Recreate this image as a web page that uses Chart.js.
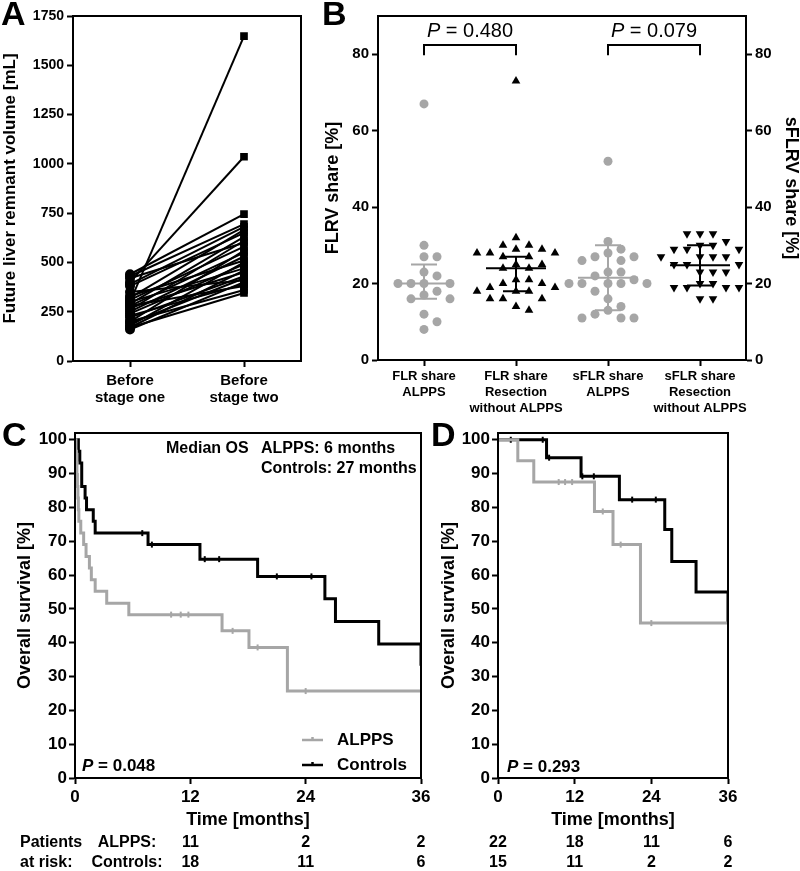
<!DOCTYPE html>
<html lang="en">
<head>
<meta charset="UTF-8">
<title>ALPPS volumes and survival</title>
<script src="https://cdnjs.cloudflare.com/ajax/libs/Chart.js/4.4.1/chart.umd.min.js"></script>
<style>
  body { margin: 0; background: #fff; width: 800px; height: 871px; position: relative; overflow: hidden; }
  canvas { position: absolute; }
  .letter { position: absolute; font: bold 34px "Liberation Sans", Arial, sans-serif; line-height: 1; color: #000; }
</style>
</head>
<body>
<canvas id="chartA" style="left:0;top:0" width="310" height="410"></canvas>
<canvas id="chartB" style="left:310px;top:0" width="490" height="420"></canvas>
<canvas id="chartC" style="left:0;top:400px" width="440" height="471"></canvas>
<canvas id="chartD" style="left:440px;top:400px" width="360" height="471"></canvas>
<div class="letter" style="left:1px;top:-4px">A</div>
<div class="letter" style="left:322px;top:-4px">B</div>
<div class="letter" style="left:2px;top:417px">C</div>
<div class="letter" style="left:431px;top:417px">D</div>

<script>
// ---------- Panel A: future liver remnant volume ----------
const stageLabels = [['Before', 'stage one'], ['Before', 'stage two']];
const volumeTicks = [0, 250, 500, 750, 1000, 1250, 1500, 1750];
const stageOne = [300, 400, 440, 430, 390, 320, 380, 290, 260, 420, 310, 200, 280, 250,
                  330, 180, 240, 300, 170, 270, 220, 190, 350, 160, 280, 200, 170, 230];
const stageTwo = [1648, 1036, 745, 694, 680, 665, 650, 630, 610, 600, 580, 560, 550, 530,
                  510, 500, 490, 470, 460, 450, 430, 420, 410, 400, 380, 360, 345, 390];

// ---------- Panel B: FLRV share ----------
const shareGroups = [['FLR share', 'ALPPS'], ['FLR share', 'Resection', 'without ALPPS'],
                     ['sFLR share', 'ALPPS'], ['sFLR share', 'Resection', 'without ALPPS']];
const shareTicks = [0, 20, 40, 60, 80];
const flrAlpps = [67, 30, 27, 27, 23, 22, 20, 20, 20, 20, 18, 17, 16, 16, 12, 10, 8];
const flrResection = [73, 32, 30, 30, 29, 29, 28, 28, 28, 27, 27, 25, 25, 24, 24, 21, 21,
                      20, 20, 19, 19, 18, 18, 18, 16, 16, 16, 14, 13];
const sflrAlpps = [52, 31, 29, 28, 27, 27, 26, 26, 23, 23, 22, 21, 20, 20, 20, 20, 20,
                   18, 16, 14, 13, 12, 11, 11, 11];
const sflrResection = [33, 33, 33, 31, 30, 30, 29, 29, 29, 27, 27, 27, 27, 25, 25, 25, 25,
                       23, 23, 23, 20, 20, 19, 19, 19, 19, 16, 16];
const shareMedian = [20, 24, 21.5, 24.8];
const shareUpper = [25, 27, 30, 30];
const shareLower = [16, 18, 13, 19.5];
const pValuesB = ['0.480', '0.079'];
const pPairsB = [[0, 1], [2, 3]];

// ---------- Panels C and D: overall survival ----------
const monthTicks = [0, 12, 24, 36];
const survivalTicks = [0, 10, 20, 30, 40, 50, 60, 70, 80, 90, 100];

const alppsTimeC = [0, 0.1, 0.15, 0.2, 0.25, 0.3, 0.35, 0.4, 0.6, 0.9, 1.15, 1.5, 1.7, 2.1, 3.3, 5.6, 15.3, 18.1, 22.1, 36];
const alppsSurvC = [100, 96.6, 93.1, 89.7, 86.2, 82.8, 79.3, 75.9, 72.4, 69, 65.5, 62.1, 58.6, 55.2, 51.7, 48.3, 43.5, 38.6, 25.7, 25.7];
const alppsCensTC = [10, 11, 11.8, 16.4, 19, 24];
const alppsCensSC = [48.3, 48.3, 48.3, 43.5, 38.6, 25.7];
const ctrlTimeC = [0, 0.35, 0.5, 0.7, 1.05, 1.2, 1.9, 2.1, 7.6, 13.0, 19.0, 26.0, 27.1, 31.6, 36, 36];
const ctrlSurvC = [100, 96.6, 93.1, 86.2, 82.8, 79.3, 75.9, 72.4, 69.0, 64.7, 59.6, 53.0, 46.3, 39.6, 39.6, 33.2];
const ctrlCensTC = [7, 8, 13.5, 15, 21, 24.6];
const ctrlCensSC = [72.4, 69.0, 64.7, 64.7, 59.6, 59.6];

const alppsTimeD = [0, 3.1, 5.6, 15.1, 18.0, 22.3, 36];
const alppsSurvD = [100, 93.8, 87.5, 78.8, 69.0, 45.8, 45.8];
const alppsCensTD = [9.5, 10.5, 11.6, 16.4, 19.2, 24];
const alppsCensSD = [87.5, 87.5, 87.5, 78.8, 69.0, 45.8];
const ctrlTimeD = [0, 7.6, 13.0, 19.0, 26.1, 27.2, 31.0, 36, 36];
const ctrlSurvD = [100, 94.7, 89.2, 82.3, 73.5, 64.0, 55.0, 55.0, 46.0];
const ctrlCensTD = [2, 7, 8, 13.2, 15, 21, 24.7];
const ctrlCensSD = [100, 100, 94.7, 89.2, 89.2, 82.3, 82.3];

const riskMonthsC = [12, 24, 36];
const riskAlppsC = [11, 2, 2];
const riskCtrlC = [18, 11, 6];
const riskMonthsD = [0, 12, 24, 36];
const riskRow1D = [22, 18, 11, 6];
const riskRow2D = [15, 11, 2, 2];

// ---------- shared bits ----------
const FONT = '"Liberation Sans", Arial, sans-serif';
const GREY = '#a6a6a6';
Chart.defaults.font.family = FONT;
Chart.defaults.color = '#000';

const fixW = w => s => { s.width = w; };
const fixH = h => s => { s.height = h; };
const setTicks = list => s => { s.ticks = list.map(v => ({ value: v })); };
const plainNum = v => String(v);

const framePlugin = {
  id: 'frame',
  afterDraw(chart) {
    const { ctx, chartArea: a } = chart;
    ctx.save();
    ctx.strokeStyle = '#000';
    ctx.lineWidth = 2;
    ctx.strokeRect(a.left, a.top, a.right - a.left, a.bottom - a.top);
    ctx.restore();
  }
};

function axisStyle(fontSize, extra) {
  return Object.assign({
    border: { color: '#000', width: 2 },
    grid: { drawOnChartArea: false, drawTicks: true, tickLength: 6, tickWidth: 2, tickColor: '#000' },
    ticks: { font: { size: fontSize, weight: 'bold' }, color: '#000', padding: 3, maxRotation: 0, callback: plainNum }
  }, extra);
}

// draw "P = value" with an italic P
function drawP(ctx, text, x, y, size, weight, align) {
  ctx.save();
  ctx.textBaseline = 'middle';
  ctx.fillStyle = '#000';
  ctx.font = `italic ${weight} ${size}px ${FONT}`;
  const wP = ctx.measureText('P').width;
  ctx.font = `${weight} ${size}px ${FONT}`;
  const rest = ' = ' + text;
  const wR = ctx.measureText(rest).width;
  let x0 = align === 'center' ? x - (wP + wR) / 2 : x;
  ctx.textAlign = 'left';
  ctx.font = `italic ${weight} ${size}px ${FONT}`;
  ctx.fillText('P', x0, y);
  ctx.font = `${weight} ${size}px ${FONT}`;
  ctx.fillText(rest, x0 + wP, y);
  ctx.restore();
}

// ---------- Panel A ----------
new Chart(document.getElementById('chartA'), {
  type: 'line',
  data: {
    labels: stageLabels,
    datasets: stageOne.map((v, i) => ({
      data: [v, stageTwo[i]],
      borderColor: '#000',
      backgroundColor: '#000',
      borderWidth: 2,
      pointStyle: ['circle', 'rect'],
      pointRadius: 4,
      tension: 0
    }))
  },
  options: {
    responsive: false,
    animation: false,
    layout: { padding: { top: 16, right: 9 } },
    plugins: { legend: { display: false }, tooltip: { enabled: false } },
    scales: {
      x: axisStyle(15, {
        type: 'category', offset: true, afterFit: fixH(49),
        ticks: { font: { size: 15, weight: 'bold', lineHeight: 1.15 }, color: '#000', padding: 5, maxRotation: 0 }
      }),
      y: axisStyle(14, {
        min: 0, max: 1750, afterFit: fixW(73), afterBuildTicks: setTicks(volumeTicks),
        title: { display: true, text: 'Future liver remnant volume [mL]', font: { size: 17, weight: 'bold' }, padding: 0 }
      })
    }
  },
  plugins: [framePlugin]
});

// ---------- Panel B ----------
// beeswarm spread so that markers of similar value sit side by side
function swarm(values, center) {
  const placed = [];
  const step = 6.5, gap = 9, pxPerGroup = 92, pxPerUnit = 3.81;
  values.slice().sort((a, b) => b - a).forEach(v => {
    for (let k = 0; k < 30; k++) {
      const off = (k % 2 ? 1 : -1) * Math.ceil(k / 2) * step;
      const hit = placed.some(p => Math.abs(p.dx - off) < gap && Math.abs(p.v - v) * pxPerUnit < gap);
      if (!hit) { placed.push({ dx: off, v }); break; }
    }
  });
  return placed.map(p => ({ x: center + p.dx / pxPerGroup, y: p.v }));
}

const groupValues = [flrAlpps, flrResection, sflrAlpps, sflrResection];
const groupColors = [GREY, '#000', GREY, '#000'];
const groupStyles = ['circle', 'triangle', 'circle', 'triangle'];
const groupRotation = [0, 0, 0, 180];

const summaryPlugin = {
  id: 'summary',
  afterDatasetsDraw(chart) {
    const { ctx, scales: { x, y } } = chart;
    ctx.save();
    ctx.lineWidth = 2;
    shareMedian.forEach((m, i) => {
      const cx = x.getPixelForValue(i);
      ctx.strokeStyle = groupColors[i];
      ctx.beginPath();
      ctx.moveTo(cx - 30, y.getPixelForValue(m)); ctx.lineTo(cx + 30, y.getPixelForValue(m));
      ctx.moveTo(cx, y.getPixelForValue(shareUpper[i])); ctx.lineTo(cx, y.getPixelForValue(shareLower[i]));
      ctx.moveTo(cx - 13, y.getPixelForValue(shareUpper[i])); ctx.lineTo(cx + 13, y.getPixelForValue(shareUpper[i]));
      ctx.moveTo(cx - 13, y.getPixelForValue(shareLower[i])); ctx.lineTo(cx + 13, y.getPixelForValue(shareLower[i]));
      ctx.stroke();
    });
    // comparison brackets
    ctx.strokeStyle = '#000';
    pPairsB.forEach((pair, i) => {
      const x1 = x.getPixelForValue(pair[0]), x2 = x.getPixelForValue(pair[1]);
      const yb = y.getPixelForValue(82.4), yd = y.getPixelForValue(79.7);
      ctx.beginPath();
      ctx.moveTo(x1, yd); ctx.lineTo(x1, yb); ctx.lineTo(x2, yb); ctx.lineTo(x2, yd);
      ctx.stroke();
      drawP(ctx, pValuesB[i], (x1 + x2) / 2, y.getPixelForValue(85.9), 20, 'normal', 'center');
    });
    ctx.restore();
  }
};

new Chart(document.getElementById('chartB'), {
  type: 'scatter',
  data: {
    datasets: groupValues.map((vals, i) => ({
      data: swarm(vals, i),
      pointStyle: groupStyles[i],
      rotation: groupRotation[i],
      pointRadius: groupStyles[i] === 'circle' ? 4.5 : 5,
      backgroundColor: groupColors[i],
      borderColor: groupColors[i],
      borderWidth: 0
    }))
  },
  options: {
    responsive: false,
    animation: false,
    layout: { padding: { top: 16 } },
    plugins: { legend: { display: false }, tooltip: { enabled: false } },
    scales: {
      x: axisStyle(13, {
        type: 'linear', min: -0.5, max: 3.5, afterFit: fixH(60),
        afterBuildTicks: setTicks([0, 1, 2, 3]),
        ticks: { font: { size: 13, weight: 'bold', lineHeight: 1.2 }, color: '#000', padding: 3, maxRotation: 0,
                 callback: v => shareGroups[v] }
      }),
      y: axisStyle(15, {
        min: 0, max: 90, afterFit: fixW(68), afterBuildTicks: setTicks(shareTicks),
        title: { display: true, text: 'FLRV share [%]', font: { size: 18, weight: 'bold' }, padding: { top: 12 } }
      }),
      y2: axisStyle(15, {
        position: 'right', min: 0, max: 90, afterFit: fixW(54), afterBuildTicks: setTicks(shareTicks),
        title: { display: true, text: 'sFLRV share [%]', font: { size: 18, weight: 'bold', lineHeight: 1 }, padding: 0 }
      })
    }
  },
  plugins: [framePlugin, summaryPlugin]
});

// ---------- Panels C and D ----------
const toPts = (t, s) => t.map((v, i) => ({ x: v, y: s[i] }));

function kmDatasets(aT, aS, aCT, aCS, cT, cS, cCT, cCS) {
  const curve = (t, s, col, label) => ({
    label, data: toPts(t, s), stepped: true, borderColor: col, borderWidth: 3,
    pointRadius: 0, fill: false
  });
  const cens = (t, s, col) => ({
    data: toPts(t, s), showLine: false, pointStyle: 'line', rotation: 90,
    pointRadius: 3, borderColor: col, pointBorderWidth: 2
  });
  return [curve(aT, aS, GREY, 'ALPPS'), cens(aCT, aCS, GREY),
          curve(cT, cS, '#000', 'Controls'), cens(cCT, cCS, '#000')];
}

function kmOptions(yWidth, padRight, yTitlePad, yTitleLH) {
  return {
    responsive: false,
    animation: false,
    layout: { padding: { top: 33, right: padRight } },
    plugins: { legend: { display: false }, tooltip: { enabled: false } },
    scales: {
      x: axisStyle(17, {
        type: 'linear', min: 0, max: 36, afterFit: fixH(93), afterBuildTicks: setTicks(monthTicks),
        title: { display: true, text: 'Time [months]', font: { size: 18, weight: 'bold' }, padding: { top: 0, bottom: 40 } }
      }),
      y: axisStyle(17, {
        min: 0, max: 102, afterFit: fixW(yWidth), afterBuildTicks: setTicks(survivalTicks),
        ticks: { font: { size: 17, weight: 'bold' }, color: '#000', padding: 2, callback: plainNum },
        title: { display: true, text: 'Overall survival [%]', font: { size: 18, weight: 'bold', lineHeight: yTitleLH },
                 padding: { top: yTitlePad, bottom: 0 } }
      })
    }
  };
}

function drawRiskRow(ctx, x, months, values, yPix) {
  months.forEach((m, i) => ctx.fillText(String(values[i]), x.getPixelForValue(m), yPix));
}

const panelCText = {
  id: 'panelCText',
  afterDraw(chart) {
    const { ctx, chartArea: a, scales: { x } } = chart;
    ctx.save();
    ctx.fillStyle = '#000';
    ctx.textBaseline = 'middle';
    ctx.font = `bold 16px ${FONT}`;
    ctx.textAlign = 'left';
    ctx.fillText('Median OS', 166, a.top + 16);
    ctx.fillText('ALPPS: 6 months', 261, a.top + 16);
    ctx.fillText('Controls: 27 months', 261, a.top + 36);
    drawP(ctx, '0.048', a.left + 7, a.bottom - 12, 17, 'bold', 'left');
    // legend
    chart.data.datasets.filter(d => d.label).forEach((d, i) => {
      const ly = a.bottom - 38 + i * 25;
      ctx.strokeStyle = d.borderColor;
      ctx.lineWidth = 2.5;
      ctx.beginPath();
      ctx.moveTo(302, ly); ctx.lineTo(323, ly);
      ctx.moveTo(312.5, ly - 3); ctx.lineTo(312.5, ly);
      ctx.stroke();
      ctx.font = `bold 17px ${FONT}`;
      ctx.fillText(d.label, 337, ly);
    });
    // patients at risk
    ctx.font = `bold 16px ${FONT}`;
    ctx.fillText('Patients', 20, a.bottom + 65);
    ctx.fillText('at risk:', 20, a.bottom + 85);
    ctx.textAlign = 'center';
    ctx.fillText('ALPPS:', 127, a.bottom + 65);
    ctx.fillText('Controls:', 127, a.bottom + 85);
    drawRiskRow(ctx, x, riskMonthsC, riskAlppsC, a.bottom + 65);
    drawRiskRow(ctx, x, riskMonthsC, riskCtrlC, a.bottom + 85);
    ctx.restore();
  }
};

const panelDText = {
  id: 'panelDText',
  afterDraw(chart) {
    const { ctx, chartArea: a, scales: { x } } = chart;
    ctx.save();
    ctx.fillStyle = '#000';
    ctx.textBaseline = 'middle';
    drawP(ctx, '0.293', a.left + 9, a.bottom - 11, 17, 'bold', 'left');
    ctx.font = `bold 16px ${FONT}`;
    ctx.textAlign = 'center';
    drawRiskRow(ctx, x, riskMonthsD, riskRow1D, a.bottom + 65);
    drawRiskRow(ctx, x, riskMonthsD, riskRow2D, a.bottom + 85);
    ctx.restore();
  }
};

new Chart(document.getElementById('chartC'), {
  type: 'line',
  data: { datasets: kmDatasets(alppsTimeC, alppsSurvC, alppsCensTC, alppsCensSC,
                               ctrlTimeC, ctrlSurvC, ctrlCensTC, ctrlCensSC) },
  options: kmOptions(75, 19, 14, 1.2),
  plugins: [framePlugin, panelCText]
});

new Chart(document.getElementById('chartD'), {
  type: 'line',
  data: { datasets: kmDatasets(alppsTimeD, alppsSurvD, alppsCensTD, alppsCensSD,
                               ctrlTimeD, ctrlSurvD, ctrlCensTD, ctrlCensSD) },
  options: kmOptions(58, 72, 0, 1),
  plugins: [framePlugin, panelDText]
});
</script>
</body>
</html>
